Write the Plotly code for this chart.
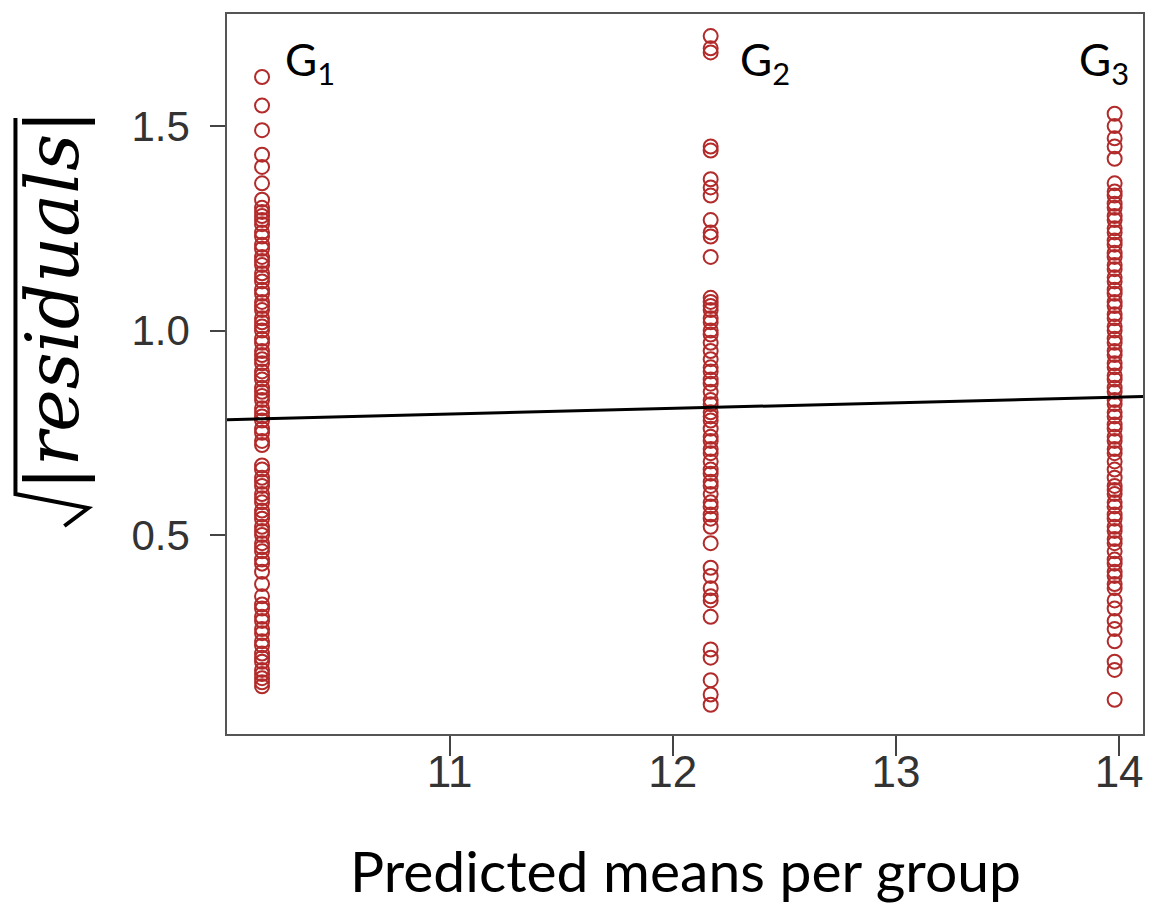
import plotly.graph_objects as go

# ---- data ----
group_names = ["G<sub>1</sub>", "G<sub>2</sub>", "G<sub>3</sub>"]
group_means = [10.16, 12.17, 13.98]

g1_resid = [1.62, 1.55, 1.49, 1.43, 1.40, 1.36, 1.32, 1.30, 1.29, 1.28, 1.27, 1.26,
            1.24, 1.23, 1.21, 1.20, 1.18, 1.17, 1.16, 1.14, 1.13, 1.12, 1.10, 1.09,
            1.07, 1.06, 1.05, 1.03, 1.02, 1.01, 1.00, 0.98, 0.97, 0.95, 0.94, 0.93,
            0.92, 0.90, 0.89, 0.88, 0.86, 0.85, 0.84, 0.83, 0.81, 0.80, 0.79, 0.78,
            0.76, 0.75, 0.73, 0.72,
            0.67, 0.66, 0.64, 0.63, 0.62, 0.60, 0.59, 0.58, 0.56, 0.55, 0.54, 0.52,
            0.51, 0.50, 0.48, 0.47, 0.46, 0.44, 0.43, 0.41, 0.38, 0.35, 0.33, 0.32,
            0.30, 0.29, 0.27, 0.26, 0.24, 0.23, 0.21, 0.20, 0.19, 0.17, 0.16, 0.15,
            0.14, 0.13]

g2_resid = [1.72, 1.69, 1.68, 1.45, 1.44, 1.37, 1.35, 1.33, 1.27, 1.24, 1.23, 1.18,
            1.08, 1.07, 1.06, 1.05, 1.03, 1.02, 1.00, 0.99, 0.97, 0.95, 0.93, 0.91,
            0.90, 0.88, 0.87, 0.85, 0.83, 0.82, 0.80, 0.79, 0.78, 0.76, 0.74, 0.73,
            0.71, 0.70, 0.68, 0.66, 0.65, 0.63, 0.62, 0.60, 0.58, 0.57, 0.55, 0.54,
            0.52, 0.48, 0.42, 0.40, 0.37, 0.35, 0.34, 0.30, 0.22, 0.20, 0.145, 0.11,
            0.085]

g3_resid = [1.53, 1.50, 1.47, 1.45, 1.42, 1.36, 1.34, 1.33, 1.31, 1.30, 1.28, 1.27,
            1.25, 1.24, 1.22, 1.21, 1.19, 1.18, 1.16, 1.15, 1.13, 1.12, 1.10, 1.09,
            1.07, 1.06, 1.04, 1.03, 1.01, 1.00, 0.98, 0.97, 0.95, 0.94, 0.92, 0.91,
            0.89, 0.88, 0.86, 0.85, 0.83, 0.82, 0.80, 0.79, 0.77, 0.76, 0.74, 0.73,
            0.71, 0.70, 0.68, 0.66, 0.64, 0.62, 0.61, 0.60, 0.58, 0.57, 0.55, 0.54,
            0.52, 0.51, 0.49, 0.48, 0.46, 0.44, 0.43, 0.41, 0.40, 0.38, 0.37, 0.34,
            0.32, 0.29, 0.27, 0.24, 0.19, 0.17, 0.097]

fit_intercept = 0.644
fit_slope = 0.0138

x_range = [10.003, 14.107]
y_range = [0.0134, 1.774]
x_ticks = [11, 12, 13, 14]
y_ticks = [0.5, 1.0, 1.5]
y_tick_text = ["0.5", "1.0", "1.5"]

point_color = "#B22A2A"

fig = go.Figure()

for mean, vals in zip(group_means, [g1_resid, g2_resid, g3_resid]):
    fig.add_trace(go.Scatter(
        x=[mean] * len(vals), y=vals, mode="markers",
        marker=dict(symbol="circle-open", size=14, color=point_color,
                    line=dict(width=2, color=point_color)),
        showlegend=False, hoverinfo="skip"))

fig.add_trace(go.Scatter(
    x=x_range, y=[fit_intercept + fit_slope * v for v in x_range],
    mode="lines", line=dict(color="black", width=3), showlegend=False))

L, R, T, B = 227, 4, 14, 173
W, H = 1149, 907
pw, ph = W - L - R, H - T - B

def px(xpix):
    return (xpix - L) / pw

def py(ypix):
    return (H - B - ypix) / ph

axis_common = dict(showline=True, linecolor="#555555", linewidth=1.5, mirror=True,
                   ticks="outside", tickcolor="#444444", tickwidth=1.5,
                   showgrid=False, zeroline=False)

fig.update_xaxes(range=x_range, tickvals=x_ticks, ticklen=20, ticklabelstandoff=-22,
                 tickfont=dict(family="Liberation Sans", size=44, color="#333333"),
                 **axis_common)
fig.update_yaxes(range=y_range, tickvals=y_ticks, ticktext=y_tick_text, ticklen=15,
                 ticklabelstandoff=12,
                 tickfont=dict(family="Liberation Sans", size=42, color="#333333"),
                 **axis_common)

annotations = []
label_x = [310, 766, 1106]
for name, lx in zip(group_names, label_x):
    annotations.append(dict(text=name, x=px(lx), y=py(63), xref="paper", yref="paper",
                            xanchor="center", yanchor="middle",
                            showarrow=False, font=dict(family="Lato", size=44, color="black")))

annotations.append(dict(text="Predicted means per group", x=px(686), y=py(870),
                        xref="paper", yref="paper", xanchor="center", yanchor="middle",
                        showarrow=False,
                        font=dict(family="Lato", size=57, color="black")))

annotations.append(dict(text="|<i>residuals</i>|", x=px(9), y=py(300),
                        xref="paper", yref="paper", xanchor="left", yanchor="middle",
                        showarrow=False, textangle=-90,
                        font=dict(family="DejaVu Serif", size=72, color="black")))

# radical sign drawn as vinculum + check stroke (rotated, reading bottom to top)
rad_path = "M {},{} L {},{} L {},{} L {},{}".format(
    px(15), py(118), px(15), py(494), px(88), py(508), px(64), py(526))

fig.update_layout(
    width=W, height=H, margin=dict(l=L, r=R, t=T, b=B),
    plot_bgcolor="white", paper_bgcolor="white",
    annotations=annotations,
    shapes=[dict(type="path", xref="paper", yref="paper", path=rad_path,
                 line=dict(color="black", width=4))])

fig.write_html("out.html")
